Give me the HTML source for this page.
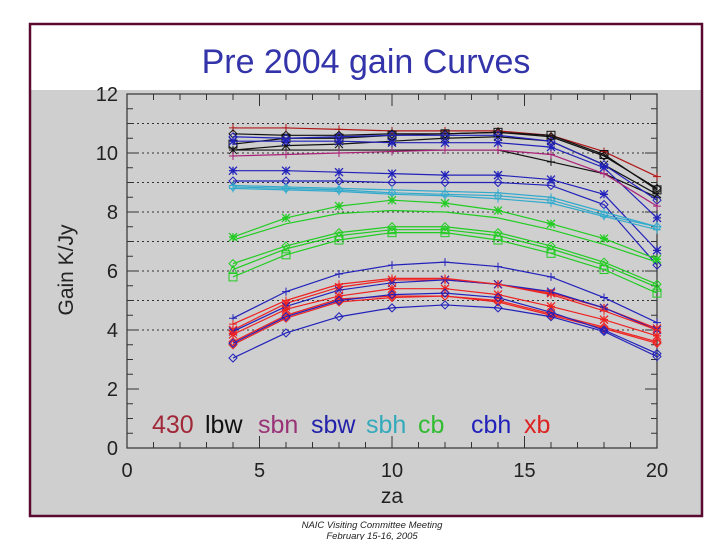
<!DOCTYPE html>
<html><head><meta charset="utf-8"><style>
body{margin:0;background:#fff;}
svg{display:block;}
</style></head><body>
<svg id="chart" width="720" height="540" viewBox="0 0 720 540" xmlns="http://www.w3.org/2000/svg" font-family="Liberation Sans, sans-serif">
<rect x="0" y="0" width="720" height="540" fill="#fff"/>
<rect x="31" y="90" width="670" height="425" fill="#cfcfcf"/>
<rect x="30" y="24" width="672" height="492" fill="none" stroke="#5a0a30" stroke-width="2.5"/>
<text x="366" y="73" text-anchor="middle" font-size="34" fill="#3333aa">Pre 2004 gain Curves</text>
<g id="grid"></g>
<g id="axes"></g>
<g id="series"></g>
<text transform="translate(73,270) rotate(-90)" text-anchor="middle" font-size="21" fill="#222">Gain  K/Jy</text>
<text x="392" y="503" text-anchor="middle" font-size="21" fill="#222">za</text>
<g font-size="25">
<text x="152" y="433" fill="#a02838">430</text>
<text x="205" y="433" fill="#111">lbw</text>
<text x="258" y="433" fill="#993377">sbn</text>
<text x="311" y="433" fill="#2222aa">sbw</text>
<text x="366" y="433" fill="#33aabb">sbh</text>
<text x="418" y="433" fill="#33bb33">cb</text>
<text x="471" y="433" fill="#2222bb">cbh</text>
<text x="524" y="433" fill="#dd2222">xb</text>
</g>
<text x="372" y="528" text-anchor="middle" font-size="9.5" font-style="italic" fill="#222">NAIC Visiting Committee Meeting</text>
<text x="372" y="539" text-anchor="middle" font-size="9.5" font-style="italic" fill="#222">February 15-16, 2005</text>
</svg>
<script>
const za = [4,6,8,10,12,14,16,18,20];
const xTicks = [0,5,10,15,20];
const yTicks = [0,2,4,6,8,10,12];
const gridVals = [4,5,6,7,8,9,10,11];
const seriesColors = ['#b01818','#111','#111','#111','#111','#2222bb','#2222bb','#aa2277','#2222bb','#2222bb','#33aacc','#33aacc','#33aacc','#22cc22','#22cc22','#22cc22','#22cc22','#22cc22','#2222bb','#ee2222','#2222bb','#ee2222','#ee2222','#ee2222','#ee2222','#2222bb','#2222bb'];
const seriesMarkers = ['+','s','d','x','+','d','*','+','*','d','+','d','+','*','n','d','t','s','+','*','x','+','*','d','d','d','d'];
const s0=[10.85,10.85,10.8,10.75,10.75,10.75,10.6,10.05,9.2];
const s1=[10.3,10.5,10.5,10.6,10.65,10.7,10.6,9.95,8.75];
const s2=[10.65,10.6,10.6,10.65,10.65,10.7,10.55,9.9,8.8];
const s3=[10.1,10.25,10.3,10.4,10.5,10.55,10.4,9.6,8.6];
const s4=[10.1,10.1,10.1,10.1,10.1,10.1,9.7,9.3,8.5];
const s5=[10.55,10.5,10.55,10.6,10.6,10.6,10.4,9.6,8.4];
const s6=[10.4,10.4,10.4,10.35,10.35,10.35,10.2,9.5,7.8];
const s7=[9.9,9.95,10.0,10.05,10.1,10.1,9.95,9.3,8.2];
const s8=[9.4,9.4,9.35,9.3,9.25,9.25,9.1,8.6,6.7];
const s9=[9.05,9.05,9.05,9.0,9.0,9.0,8.9,8.25,6.2];
const s10=[8.9,8.85,8.8,8.75,8.7,8.65,8.5,8.0,7.5];
const s11=[8.85,8.8,8.75,8.65,8.6,8.55,8.4,7.9,7.5];
const s12=[8.8,8.75,8.7,8.6,8.55,8.45,8.3,7.85,7.4];
const s13=[7.15,7.8,8.2,8.4,8.3,8.05,7.6,7.1,6.4];
const s14=[7.05,7.6,7.95,8.05,8.0,7.8,7.4,6.9,6.3];
const s15=[6.25,6.85,7.3,7.5,7.5,7.3,6.85,6.3,5.55];
const s16=[6.05,6.75,7.2,7.4,7.4,7.2,6.75,6.2,5.45];
const s17=[5.8,6.55,7.05,7.3,7.3,7.05,6.6,6.05,5.25];
const s18=[4.4,5.3,5.9,6.2,6.3,6.15,5.8,5.1,4.25];
const s19=[4.0,4.9,5.45,5.7,5.7,5.55,5.25,4.75,4.05];
const s20=[3.95,4.8,5.35,5.6,5.7,5.55,5.3,4.75,4.0];
const s21=[4.2,5.0,5.55,5.75,5.75,5.55,5.2,4.65,4.0];
const s22=[3.85,4.7,5.15,5.4,5.4,5.2,4.8,4.35,3.8];
const s23=[3.5,4.4,4.95,5.1,5.15,4.95,4.5,4.05,3.55];
const s24=[3.6,4.5,5.05,5.15,5.15,5.0,4.55,4.1,3.6];
const s25=[3.05,3.9,4.45,4.75,4.85,4.75,4.45,3.95,3.1];
const s26=[3.55,4.45,5.0,5.2,5.25,5.1,4.6,4.0,3.2];
const allSeries=[s0,s1,s2,s3,s4,s5,s6,s7,s8,s9,s10,s11,s12,s13,s14,s15,s16,s17,s18,s19,s20,s21,s22,s23,s24,s25,s26];

const NS='http://www.w3.org/2000/svg';
const X0=127,X1=657,Y0=448,Y1=94;
function xs(v){return X0+(v-0)/20*(X1-X0);}
function ys(v){return Y0-(v-0)/12*(Y0-Y1);}
function mk(tag,attrs,parent){const e=document.createElementNS(NS,tag);for(const k in attrs)e.setAttribute(k,attrs[k]);parent.appendChild(e);return e;}
const grid=document.getElementById('grid'),axes=document.getElementById('axes'),ser=document.getElementById('series');
gridVals.forEach(v=>{const l=mk('line',{x1:X0,x2:X1,y1:ys(v),y2:ys(v),stroke:'#333','stroke-width':1,'stroke-dasharray':'2,3'},grid);

});
const frame=mk('rect',{x:X0,y:Y1,width:X1-X0,height:Y0-Y1,fill:'none',stroke:'#333','stroke-width':1.2},axes);


for(let v=0;v<=20;v++){const major=v%5===0;const len=major?12:6;
mk('line',{x1:xs(v),x2:xs(v),y1:Y0,y2:Y0-len,stroke:'#333'},axes);
mk('line',{x1:xs(v),x2:xs(v),y1:Y1,y2:Y1+len,stroke:'#333'},axes);}
for(let v=0;v<=12;v+=0.5){const major=v%2===0;const len=major?12:6;
mk('line',{x1:X0,x2:X0+len,y1:ys(v),y2:ys(v),stroke:'#333'},axes);
mk('line',{x1:X1,x2:X1-len,y1:ys(v),y2:ys(v),stroke:'#333'},axes);}
xTicks.forEach(v=>{const t=mk('text',{x:xs(v),y:477,'text-anchor':'middle','font-size':20,fill:'#222'},axes);t.textContent=v;

});
yTicks.forEach(v=>{const t=mk('text',{x:118,y:ys(v)+7,'text-anchor':'end','font-size':20,fill:'#222'},axes);t.textContent=v;

});
function marker(g,type,x,y,c){const r=4;
if(type==='+'){mk('path',{d:`M${x-r} ${y}H${x+r}M${x} ${y-r}V${y+r}`,stroke:c,fill:'none'},g);}
else if(type==='x'){mk('path',{d:`M${x-r} ${y-r}L${x+r} ${y+r}M${x-r} ${y+r}L${x+r} ${y-r}`,stroke:c,fill:'none'},g);}
else if(type==='*'){mk('path',{d:`M${x-r} ${y}H${x+r}M${x} ${y-r}V${y+r}M${x-r} ${y-r}L${x+r} ${y+r}M${x-r} ${y+r}L${x+r} ${y-r}`,stroke:c,fill:'none','stroke-width':1.3},g);}
else if(type==='d'){mk('path',{d:`M${x} ${y-r}L${x+r} ${y}L${x} ${y+r}L${x-r} ${y}Z`,stroke:c,fill:'none'},g);}
else if(type==='s'){mk('rect',{x:x-r,y:y-r,width:2*r,height:2*r,stroke:c,fill:'none'},g);}
else if(type==='t'){mk('path',{d:`M${x} ${y-r}L${x+r} ${y+r}L${x-r} ${y+r}Z`,stroke:c,fill:'none'},g);}}
allSeries.forEach((s,i)=>{const g=mk('g',{},ser);


const c=seriesColors[i];
mk('polyline',{points:s.map((v,j)=>xs(za[j])+','+ys(v)).join(' '),fill:'none',stroke:c,'stroke-width':1.2},g);
s.forEach((v,j)=>marker(g,seriesMarkers[i],xs(za[j]),ys(v),c));});
</script>
</body></html>
